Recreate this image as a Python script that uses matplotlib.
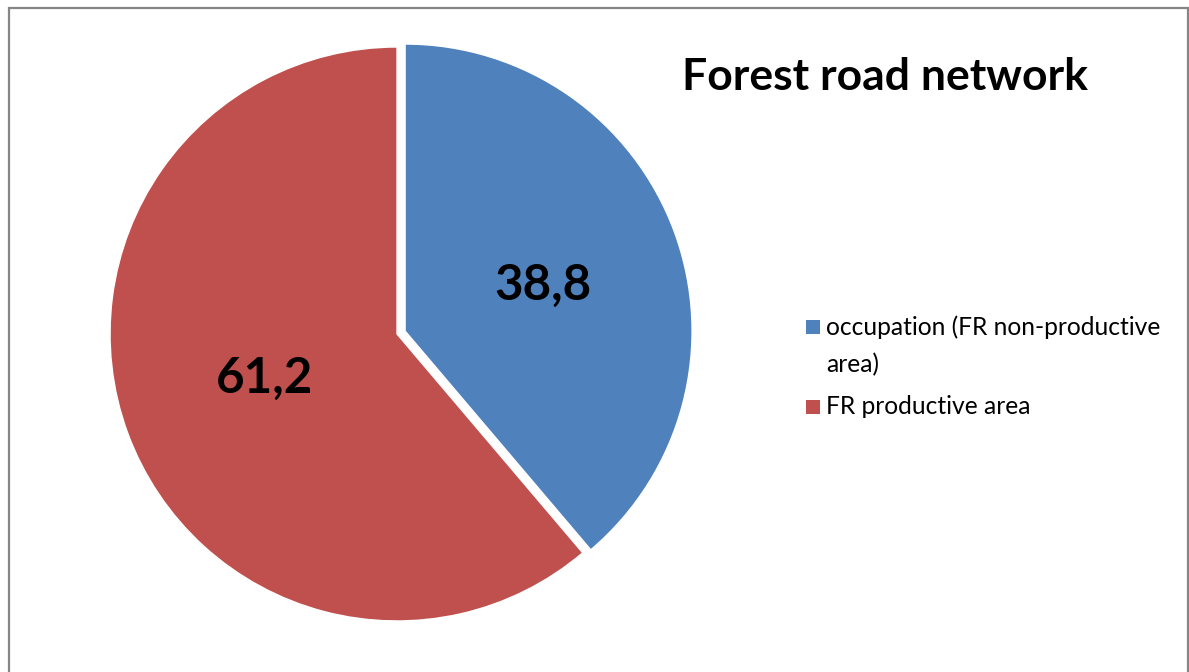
import matplotlib.pyplot as plt
from matplotlib.patches import Rectangle

plt.rcParams['font.family'] = ['Lato', 'DejaVu Sans']

# road network share of forest area (%)
labels = ['occupation (FR non-productive\narea)', 'FR productive area']
values = [38.8, 61.2]
colors = ['#4F81BD', '#C0504D']
value_text = ['38,8', '61,2']

fig = plt.figure(figsize=(11.89, 6.72), dpi=100)

# grey frame around the chart area
fig.patches.append(Rectangle((8.5 / 1189, -0.05), 1179 / 1189, 1 - 7.5 / 672 + 0.05,
                             transform=fig.transFigure, fill=False,
                             edgecolor='#868686', linewidth=1.6))

ax = fig.add_axes([0.0684, 0.0332, 0.531, 0.9396])
wedges, _ = ax.pie(values, colors=colors, startangle=90, counterclock=False,
                   explode=[0.03, 0], radius=1,
                   wedgeprops=dict(edgecolor='white', linewidth=1))
ax.set_xlim(-1.1, 1.1)
ax.set_ylim(-1.1, 1.1)
ax.set_aspect('equal')
ax.axis('off')

# value labels inside the slices
ax.text(0.51, 0.17, value_text[0], ha='center', va='center',
        fontsize=35.5, fontweight='bold', color='black')
ax.text(-0.46, -0.155, value_text[1], ha='center', va='center',
        fontsize=35.5, fontweight='bold', color='black')

fig.text(885 / 1189, 1 - 77 / 672, 'Forest road network', ha='center', va='center',
         fontsize=32, fontweight='bold')

# legend
legend_y = [327, 407]
for lab, col, y in zip(labels, colors, legend_y):
    fig.patches.append(Rectangle((806 / 1189, 1 - (y + 7) / 672), 14 / 1189, 14 / 672,
                                 transform=fig.transFigure, facecolor=col,
                                 edgecolor='none'))
    fig.text(826 / 1189, 1 - (y - 12) / 672, lab, ha='left', va='top',
             fontsize=17.7, linespacing=1.75)

plt.savefig('out.png', dpi=100)
